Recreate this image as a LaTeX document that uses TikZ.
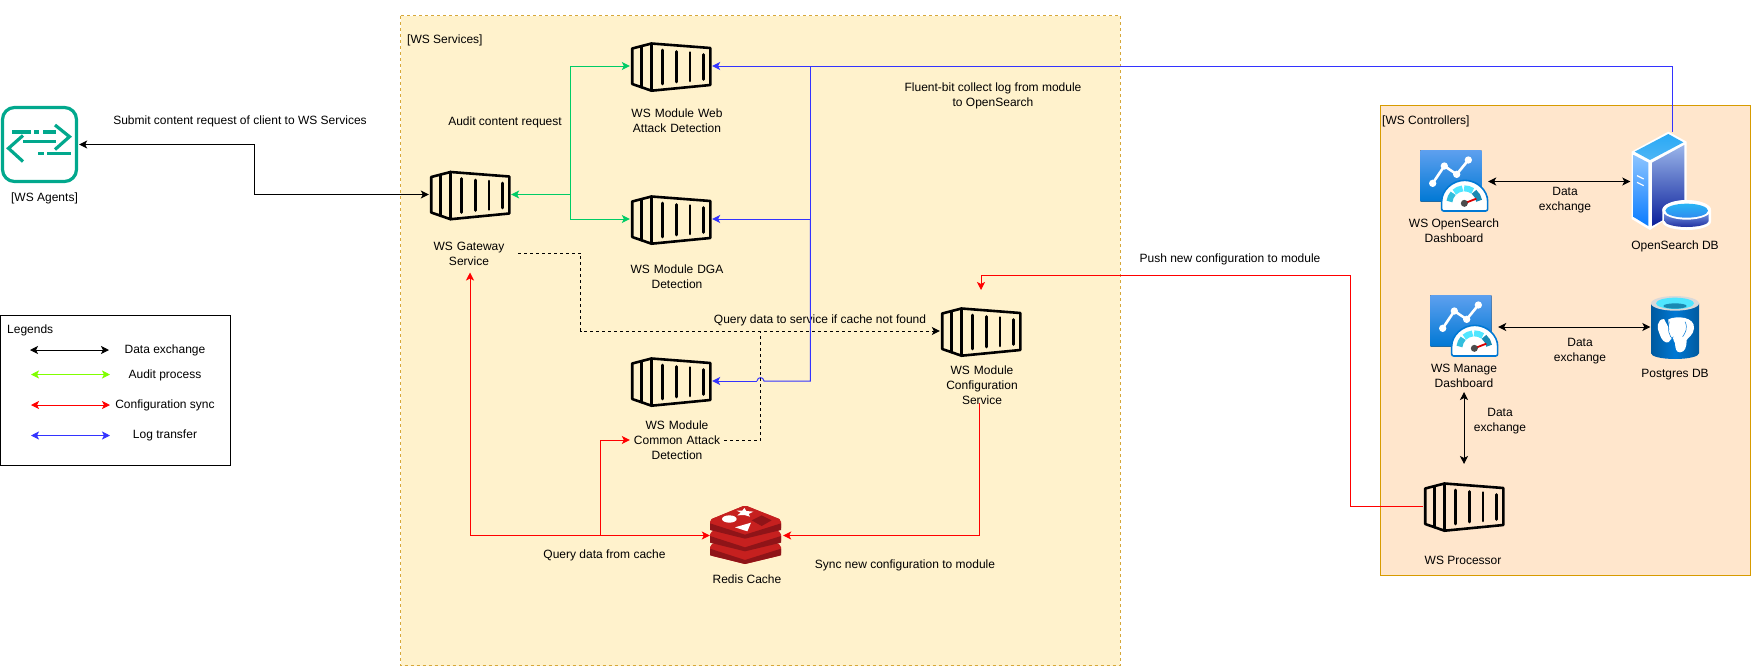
\documentclass[tikz,border=0pt]{standalone}
\usepackage{fontspec}
\setmainfont{Liberation Sans}
\usetikzlibrary{arrows.meta,calc}
\definecolor{svcfill}{HTML}{FFF2CC}
\definecolor{svcline}{HTML}{D6A83A}
\definecolor{ctlfill}{HTML}{FFE6CC}
\definecolor{ctlline}{HTML}{D79B00}
\definecolor{agentc}{HTML}{01A88D}
\definecolor{auditg}{HTML}{00CC66}
\definecolor{legg}{HTML}{80FF00}
\definecolor{logb}{HTML}{3333FF}
\definecolor{azblue}{HTML}{0078D4}
\definecolor{azlight}{HTML}{5EA0EF}
\definecolor{gaugec}{HTML}{50E6FF}
\definecolor{gaugeb}{HTML}{32BEDD}
\definecolor{gaugeg}{HTML}{198AB3}
\definecolor{redisb}{HTML}{C6201F}
\definecolor{redisd}{HTML}{8F1418}
\definecolor{dbtopa}{HTML}{2AA9F5}
\definecolor{dbtopb}{HTML}{4DB5F5}
\definecolor{dblefta}{HTML}{8CC4FF}
\definecolor{dbleftb}{HTML}{0A7CFF}
\definecolor{dbrighta}{HTML}{9AB5EA}
\definecolor{dbrightb}{HTML}{0A1F9A}
\definecolor{cyla}{HTML}{2AB5F5}
\definecolor{cylb}{HTML}{2E8CF0}
\definecolor{cylc}{HTML}{6F8FE0}
\definecolor{cyld}{HTML}{2030A0}
\tikzset{
  x=1pt,y=-1pt,
  every node/.style={font=\fontsize{12}{15}\selectfont},
  lbl/.style={inner sep=0pt,align=center,text=black},
  iconbox/.style={inner sep=0pt,minimum width=82pt,minimum height=50pt},
  flow/.style={line width=1pt,{Stealth[length=8pt,width=8pt,inset=2pt]}-{Stealth[length=8pt,width=8pt,inset=2pt]}},
  oneway/.style={line width=1pt,-{Stealth[length=8pt,width=8pt,inset=2pt]}},
  plain/.style={line width=1pt},
  dashy/.style={line width=1pt,dash pattern=on 3pt off 3pt},
}
\newcommand{\ctrbox}[3]{%
  \node[iconbox] (#1) at (#2,#3) {};
  \begin{scope}[shift={(#2-40.5,#3-24)},line width=2.6pt,line join=round,line cap=round]
    \draw (1.7,6.5)--(21,1.5)--(79.8,6)--(79.8,43)--(21,48.7)--(1.7,42)--cycle;
    \draw (10.7,4.2)--(10.7,45);
    \draw (21,1.5)--(21,48.7);
    \draw (31.7,8)--(31.7,42);
    \draw (45.7,9.5)--(45.7,40);
    \draw (59.3,10.5)--(59.3,39);
    \draw (72.7,12.5)--(72.7,37.5);
  \end{scope}}
\newcommand{\gseg}[3]{\draw[line width=6pt,#3] (#1:45) arc[start angle=#1,end angle=#2,radius=45];}
\newcommand{\dashicon}[2]{%
  \begin{scope}[shift={(#1,#2)},scale=1/3]
    \fill[rounded corners=1pt,top color=azlight,bottom color=azblue] (30,30) rectangle (215,185);
    \draw[white,line width=2.6pt,line join=round] (68,130)--(103,78)--(140,103)--(175,60);
    \foreach \p in {(68,130),(103,78),(140,103),(175,60)} \fill[white] \p circle (11);
    \filldraw[fill=white,draw=azblue,line width=1.6pt,rounded corners=2pt] (95,213)--(95,190) arc[start angle=180,end angle=360,radius=69]--(233,213)--cycle;
    \begin{scope}[shift={(163,190)}]
      \gseg{187}{222}{gaugeb}
      \gseg{228}{263}{gaugec}
      \gseg{269}{304}{gaugec}
      \gseg{310}{350}{gaugeg}
      \draw[line width=1.8pt,red!85!black] (0,0)--(36,-14);
      \fill[black!70] (0,0) circle (10.5);
    \end{scope}
  \end{scope}}
\begin{document}
\begin{tikzpicture}
\useasboundingbox (0,0) rectangle (1751,667);
\fill[white] (0,0) rectangle (1751,667);
% groups
\draw[fill=svcfill,draw=svcline,line width=1pt,dash pattern=on 3pt off 3pt] (400.5,15.5) rectangle (1120,665.5);
\draw[fill=ctlfill,draw=ctlline,line width=1pt] (1380.5,105.5) rectangle (1750.5,575);
\node[lbl,anchor=west] (svc) at (407,40) {[WS Services]};
\node[lbl,anchor=west] (ctl) at (1382,121) {[WS Controllers]};
% legend
\draw[line width=1pt] (0.5,315.5) rectangle (230.5,465.5);
\node[lbl,anchor=west] (leg) at (7,330.5) {Legends};
\coordinate (l1a) at (30,350); \coordinate (l1b) at (109,350);
\coordinate (l2a) at (31,374.5); \coordinate (l2b) at (110,374.5);
\coordinate (l3a) at (31,405); \coordinate (l3b) at (110,405);
\coordinate (l4a) at (31,435.5); \coordinate (l4b) at (110,435.5);
\draw[flow] (l1a)--(l1b);
\draw[flow,legg] (l2a)--(l2b);
\draw[flow,red] (l3a)--(l3b);
\draw[flow,logb] (l4a)--(l4b);
\node[lbl] (t1) at (165,350) {Data exchange};
\node[lbl] (t2) at (165,375) {Audit process};
\node[lbl] (t3) at (165,405) {Configuration sync};
\node[lbl] (t4) at (165,435.5) {Log transfer};
% agent
\node[inner sep=0pt,minimum width=78pt,minimum height=78pt] (agent) at (40,144.5) {};
\begin{scope}[agentc,line width=3.2pt]
  \draw[rounded corners=12pt] (2.5,107.5) rectangle (76.5,181.5);
  \draw (12,132)--(31,132) (34,132)--(39,132) (43,132)--(56,132);
  \draw[line join=miter] (55,125)--(69.5,136.7)--(55,149.5);
  \draw (23,141.7)--(56,141.7);
  \draw[line join=miter] (23,135.5)--(8.5,148.3)--(23,161.5);
  \draw (38.3,153.5)--(44,153.5) (47.3,153.5)--(70.7,153.5);
\end{scope}
\node[lbl] (agentl) at (44.5,198.5) {[WS Agents]};
% containers
\ctrbox{gw}{470}{194.5}
\ctrbox{web}{671}{66}
\ctrbox{dga}{671}{219}
\ctrbox{com}{671}{381}
\ctrbox{cfg}{981}{331}
\ctrbox{proc}{1464}{506}
% redis
\node[inner sep=0pt,minimum width=73pt,minimum height=60pt] (redis) at (746.5,535.5) {};
\begin{scope}[shift={(700,498)},scale=1/3,line join=round]
  \foreach \d in {76,38,0} {
    \fill[redisb,rounded corners=2pt] (30,65+\d)--(135,22+\d)--(243,65+\d)--(243,96+\d)--(135,122+\d)--(30,96+\d)--cycle;
    \fill[redisd] (30,76+\d)--(135,110+\d)--(243,76+\d)--(243,96+\d)--(135,122+\d)--(30,96+\d)--cycle;
  }
  \fill[redisb,rounded corners=2pt] (30,65)--(135,22)--(243,65)--(135,104)--cycle;
  \fill[white] (88,63) ellipse (22 and 11);
  \fill[white] (133,30)--(139,39)--(160,41)--(146,48)--(150,56)--(133,51)--(112,52)--(122,44)--(110,38)--(127,38)--cycle;
  \fill[white] (105,88)--(153,74)--(142,100)--cycle;
  \fill[redisd] (155,67)--(185,52)--(215,67)--(185,84)--cycle;
\end{scope}
% dashboards
\node[inner sep=0pt,minimum width=68pt,minimum height=62pt] (osd) at (1454,181.5) {};
\dashicon{1410}{140}
\node[inner sep=0pt,minimum width=68pt,minimum height=62pt] (mgd) at (1464,327) {};
\dashicon{1420}{285}
% opensearch db
\node[inner sep=0pt,minimum width=80pt,minimum height=99pt] (osdb) at (1670.5,181.5) {};
\begin{scope}[shift={(1625,125)},scale=1/3,line join=round]
  \fill[white] (20,80)--(130,20)--(185,50)--(185,240)--(75,315)--(20,282)--cycle;
  \shade[top color=dbtopa,bottom color=dbtopb] (29,80)--(130,27)--(175,52)--(75,105)--cycle;
  \shade[top color=dblefta,bottom color=dbleftb] (26,90)--(70,113)--(70,303)--(26,276)--cycle;
  \shade[top color=dbrighta,bottom color=dbrightb] (81,113)--(178,60)--(178,250)--(81,303)--cycle;
  \draw[white,line width=1.2pt] (36,152)--(56,162) (36,172)--(56,182);
  \fill[white] (112,255) arc[start angle=180,end angle=360,x radius=73,y radius=30]--(258,290) arc[start angle=0,end angle=180,x radius=73,y radius=25]--cycle;
  \shade[top color=cylc,bottom color=cyld] (119,265)--(119,288) arc[start angle=180,end angle=0,x radius=66,y radius=18]--(251,265)--cycle;
  \fill[white] (185,255) ellipse (73 and 29);
  \shade[top color=cyla,bottom color=cylb] (185,257) ellipse (64 and 21);
\end{scope}
% postgres
\node[inner sep=0pt,minimum width=49pt,minimum height=62pt] (pg) at (1675,327) {};
\begin{scope}[shift={(1640,290)},scale=1/3]
  \shade[left color=azblue!75!black,right color=azblue!75!black,middle color=azblue] (33,40)--(33,190) arc[start angle=180,end angle=0,x radius=72,y radius=17]--(177,40)--cycle;
  \fill[black!15] (105,40) ellipse (72 and 22);
  \fill[gaugec] (105,40) ellipse (57 and 17);
  \fill[gaugeg] (105,48) ellipse (35 and 8);
  \fill[white] (72,87) .. controls (50,88) and (50,115) .. (58,130) .. controls (64,150) and (75,162) .. (88,156) -- (100,140) -- cycle;
  \fill[white] (85,88) .. controls (110,76) and (165,80) .. (162,115) .. controls (160,135) and (146,140) .. (140,150) .. controls (140,170) and (135,187) .. (120,187) .. controls (108,187) and (106,175) .. (105,160) .. controls (100,145) and (85,130) .. (85,88) -- cycle;
  \draw[azblue,line width=.5pt] (88,95) .. controls (80,115) and (88,140) .. (100,150);
  \draw[azblue,line width=.5pt] (135,95) .. controls (145,115) and (135,130) .. (128,140);
  \draw[azblue,line width=.5pt] (88,156) -- (100,140);
\end{scope}
% labels
\node[lbl] (sub) at (240,121) {Submit content request of client to WS Services};
\node[lbl] (aud) at (505,122.5) {Audit content request};
\node[lbl,text width=100pt] (gwl) at (469,253.5) {WS Gateway\\Service};
\node[lbl,text width=120pt] (webl) at (677,120.5) {WS Module Web\\Attack Detection};
\node[lbl,text width=120pt] (dgal) at (677,276.5) {WS Module DGA\\Detection};
\node[lbl,text width=120pt] (coml) at (677,440) {WS Module\\Common Attack\\Detection};
\node[lbl,text width=100pt] (cfgl) at (982,385.5) {WS Module\\Configuration\\Service};
\node[lbl] (flu) at (993,96) {Fluent-bit collect log from module\\to OpenSearch};
\node[lbl] (qry) at (820,320) {Query data to service if cache not found};
\node[lbl] (qfc) at (604.5,555.5) {Query data from cache};
\node[lbl] (redl) at (747,579) {Redis Cache};
\node[lbl] (syn) at (905,565) {Sync new configuration to module};
\node[lbl] (psh) at (1230,259.5) {Push new configuration to module};
\node[lbl] (osdl) at (1454,230.5) {WS OpenSearch\\Dashboard};
\node[lbl] (osdbl) at (1675,246.5) {OpenSearch DB};
\node[lbl] (de1) at (1565,200) {Data\\exchange};
\node[lbl] (mgdl) at (1464,375.5) {WS Manage\\Dashboard};
\node[lbl] (pgl) at (1675,374.5) {Postgres DB};
\node[lbl] (de2) at (1580,351.5) {Data\\exchange};
\node[lbl] (de3) at (1500,421.5) {Data\\exchange};
\node[lbl] (procl) at (1463,560) {WS Processor};
% connectors
\draw[flow] (agent.east)--(254,144.5)|-(gw.west);
\draw[oneway,auditg] (570.3,194.5)--(gw.east);
\draw[oneway,auditg] (570.3,194.5)|-(web.west);
\draw[oneway,auditg] (570.3,194.5)|-(dga.west);
\coordinate (osdbtop) at (1672,132);
\draw[oneway,logb] (osdbtop)|-(web.east);
\draw[oneway,logb] (810.3,66)|-(dga.east);
\draw[plain,logb] (810.3,219)--(810.3,381)--(764,381) .. controls (763.5,376.5) and (757.5,376.5) .. (757,381);
\draw[oneway,logb] (757,381)--(com.east);
\coordinate (gwd) at (518,253);
\draw[line width=1pt,dash pattern=on 3pt off 3pt,-{Stealth[length=8pt,width=8pt,inset=2pt]}] (gwd)--(580.7,253)|-(cfg.west);
\coordinate (comd) at (724,440);
\draw[dashy] (comd)-|(760.6,331);
\coordinate (gwred) at (470,272.5);
\draw[flow,red] (gwred)--(470,535.5)--(redis.west);
\draw[oneway,red] (600,535.5)|-(com.west |- 0,440);
\coordinate (cfgred) at (979.3,403);
\draw[oneway,red] (cfgred)|-(redis.east);
\coordinate (cfgtop) at (981,290);
\draw[oneway,red] (proc.west)-|(1350.5,275.3)-|(cfgtop);
\draw[flow] (osd.east)--(osdb.west);
\draw[flow] (mgd.east)--(pg.west);
\coordinate (mgb) at (1464,392);
\coordinate (prt) at (1464,464);
\draw[flow] (mgb)--(prt);
\end{tikzpicture}
\end{document}
